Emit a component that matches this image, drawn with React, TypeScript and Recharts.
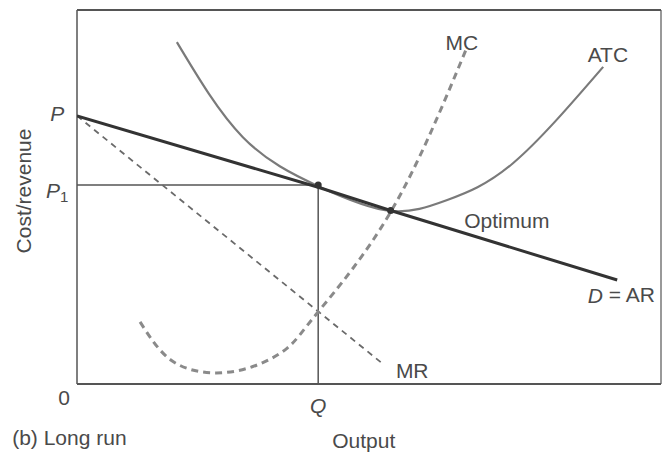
import { LineChart, Line, XAxis, YAxis, ReferenceLine, ReferenceDot } from 'recharts';

// curves, output (x) vs cost/revenue (y), both 0-100
const demand = [
  { q: 0, v: 71.7 },
  { q: 41.3, v: 52.6 },
  { q: 53.7, v: 46.4 },
  { q: 92.5, v: 27.8 },
];
const marginalRevenue = [
  { q: 0, v: 71.7 },
  { q: 52.2, v: 5.6 },
];
const atc = [
  { q: 17.1, v: 91.4 },
  { q: 28.4, v: 66.0 },
  { q: 41.3, v: 52.9 },
  { q: 53.6, v: 46.3 },
  { q: 63.4, v: 49.2 },
  { q: 74.7, v: 59.1 },
  { q: 90.1, v: 84.8 },
];
const mc = [
  { q: 10.8, v: 16.6 },
  { q: 16.0, v: 6.5 },
  { q: 23.0, v: 3.0 },
  { q: 30.0, v: 4.6 },
  { q: 36.0, v: 9.6 },
  { q: 41.3, v: 19.3 },
  { q: 53.9, v: 46.5 },
  { q: 66.8, v: 90.1 },
];
const Q = 41.3;
const P1 = 53.2;
const optimum = { q: 53.7, v: 46.4 };

const tags = [
  { q: 65.9, v: 91.4, text: 'MC' },
  { q: 90.9, v: 88.2, text: 'ATC' },
  { q: 73.6, v: 43.6, text: 'Optimum' },
  { q: 57.4, v: 3.7, text: 'MR' },
  { q: -2.2, v: -3.5, text: '0' },
  { q: 49.1, v: -15.2, text: 'Output' },
];

const font = '"Liberation Sans", Arial, sans-serif';
const ink = '#4a4a4a';

const Tag = (props: any) => {
  const { cx, cy, children, anchor = 'middle', rotate = 0, size = 21 } = props;
  if (cx == null || cy == null) return null;
  return (
    <text
      x={cx}
      y={cy}
      textAnchor={anchor}
      dominantBaseline='central'
      fontFamily={font}
      fontSize={size}
      fill={ink}
      transform={rotate ? `rotate(${rotate} ${cx} ${cy})` : undefined}>
      {children}
    </text>
  );
};

const App = () => {
  return (
    <div style={{ position: 'absolute', left: 0, top: 0, background: '#fff' }}>
      <LineChart width={662} height={452} margin={{ top: 10, right: 1, bottom: 68, left: 77 }}>
        <XAxis type='number' dataKey='q' domain={[0, 100]} hide allowDataOverflow />
        <YAxis type='number' dataKey='v' domain={[0, 100]} hide allowDataOverflow />

        {/* frame */}
        <ReferenceLine x={0} stroke='#555' strokeWidth={1.5} />
        <ReferenceLine x={100} stroke='#777' strokeWidth={1.5} />
        <ReferenceLine y={0} stroke='#555' strokeWidth={2} />
        <ReferenceLine y={100} stroke='#555' strokeWidth={2} />

        {/* P1 and Q guides */}
        <ReferenceLine segment={[{ x: 0, y: P1 }, { x: Q, y: P1 }]} stroke='#555' strokeWidth={1.5} />
        <ReferenceLine segment={[{ x: Q, y: 0 }, { x: Q, y: P1 }]} stroke='#555' strokeWidth={1.5} />

        <Line data={marginalRevenue} dataKey='v' type='linear' stroke='#6a6a6a' strokeWidth={1.8}
          strokeDasharray='6 5' dot={false} isAnimationActive={false} />
        <Line data={mc} dataKey='v' type='natural' stroke='#8a8a8a' strokeWidth={3}
          strokeDasharray='7 5' dot={false} isAnimationActive={false} />
        <Line data={atc} dataKey='v' type='natural' stroke='#7a7a7a' strokeWidth={2.2}
          dot={false} isAnimationActive={false} />
        <Line data={demand} dataKey='v' type='linear' stroke='#333' strokeWidth={3}
          dot={false} isAnimationActive={false} />

        <ReferenceDot x={Q} y={P1} r={3.5} fill='#333' stroke='none' />
        <ReferenceDot x={optimum.q} y={optimum.v} r={3.5} fill='#333' stroke='none' />

        {tags.map((t) => (
          <ReferenceDot key={t.text} x={t.q} y={t.v} ifOverflow='visible'
            shape={(p: any) => <Tag {...p}>{t.text}</Tag>} />
        ))}
        <ReferenceDot x={93.2} y={23.8} ifOverflow='visible'
          shape={(p: any) => (
            <Tag {...p}>
              <tspan fontStyle='italic'>D</tspan> = AR
            </Tag>
          )} />
        <ReferenceDot x={-3.4} y={72.5} ifOverflow='visible'
          shape={(p: any) => <Tag {...p}><tspan fontStyle='italic'>P</tspan></Tag>} />
        <ReferenceDot x={-5.3} y={51.9} ifOverflow='visible'
          shape={(p: any) => (
            <Tag {...p} anchor='start'>
              <tspan fontStyle='italic'>P</tspan>
              <tspan fontSize={15} dy={6}>1</tspan>
            </Tag>
          )} />
        <ReferenceDot x={Q} y={-5.5} ifOverflow='visible'
          shape={(p: any) => <Tag {...p}><tspan fontStyle='italic'>Q</tspan></Tag>} />
        <ReferenceDot x={-9.1} y={51.6} ifOverflow='visible'
          shape={(p: any) => <Tag {...p} rotate={-90}>Cost/revenue</Tag>} />
        <ReferenceDot x={-11.1} y={-14.2} ifOverflow='visible'
          shape={(p: any) => <Tag {...p} anchor='start'>(b) Long run</Tag>} />
      </LineChart>
    </div>
  );
};

export default App;
